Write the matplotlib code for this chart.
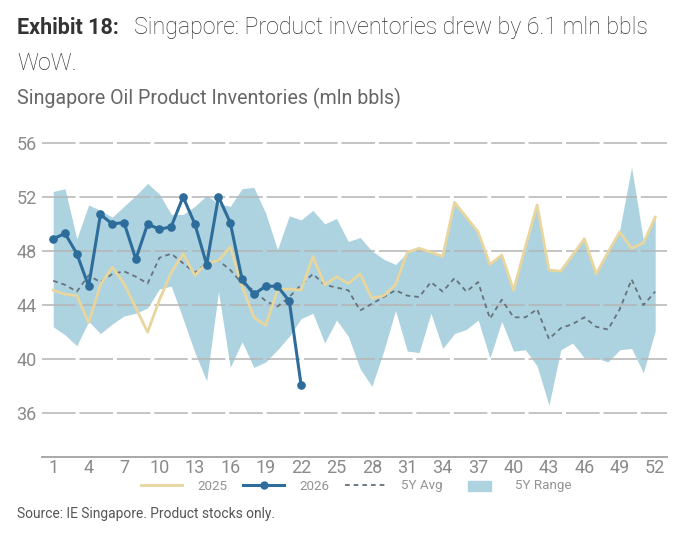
import matplotlib
matplotlib.use("Agg")
import matplotlib.pyplot as plt
from matplotlib.lines import Line2D
from matplotlib.patches import Patch, Rectangle
from matplotlib.legend_handler import HandlerPatch
import numpy as np

plt.rcParams['font.family'] = ['Roboto', 'DejaVu Sans']

weeks = list(range(1, 53))
xticks = list(range(1, 53, 3))
yticks = [36, 40, 44, 48, 52, 56]

y2026 = [48.9, 49.3, 47.8, 45.4, 50.7, 50.0, 50.1, 47.4, 50.0, 49.6,
         49.8, 52.0, 50.0, 47.0, 52.0, 50.1, 45.9, 44.8, 45.4, 45.4,
         44.3, 38.1]

y2025 = [45.1, 44.8, 44.7, 42.7, 45.5, 46.8, 45.6, 43.8, 42.0, 44.4,
         46.4, 47.8, 46.2, 47.1, 47.3, 48.3, 45.4, 43.1, 42.5, 45.1,
         45.2, 45.1, 47.6, 45.5, 46.1, 45.6, 46.3, 44.5, 44.7, 45.5,
         47.9, 48.2, 47.9, 47.6, 51.6, 50.5, 49.4, 47.0, 47.7, 45.1,
         48.3, 51.4, 46.6, 46.5, 47.7, 48.9, 46.3, 47.9, 49.4, 48.2,
         48.6, 50.5]

avg5y = [45.8, 45.5, 45.0, 46.2, 45.7, 46.3, 46.5, 46.1, 45.6, 47.5,
         47.8, 47.1, 46.4, 47.1, 47.3, 46.6, 45.6, 45.1, 44.3, 43.9,
         44.6, 45.5, 46.3, 45.5, 45.3, 45.1, 43.6, 44.1, 44.6, 45.1,
         44.7, 44.6, 45.7, 45.0, 46.0, 45.0, 45.7, 43.0, 44.4, 43.1,
         43.1, 43.7, 41.5, 42.3, 42.6, 43.1, 42.4, 42.2, 43.7, 45.9,
         44.0, 45.0]

range_hi = [52.4, 52.6, 48.9, 51.4, 51.0, 50.5, 51.3, 52.1, 53.0, 52.2,
            50.7, 50.7, 51.3, 52.1, 51.5, 51.3, 52.6, 52.7, 50.8, 48.1,
            50.6, 50.3, 51.0, 50.0, 50.4, 48.7, 49.0, 48.0, 47.4, 47.0,
            47.9, 48.2, 47.9, 47.6, 51.6, 50.5, 49.4, 47.0, 47.7, 45.1,
            48.3, 51.4, 46.6, 46.5, 47.7, 48.9, 46.3, 47.9, 49.6, 54.2,
            48.8, 50.5]

range_lo = [42.4, 41.8, 41.0, 42.8, 41.9, 42.6, 43.2, 43.4, 43.8, 45.2,
            45.4, 43.0, 40.5, 38.4, 45.0, 39.4, 41.3, 39.4, 39.8, 40.7,
            41.7, 43.0, 43.4, 41.2, 42.9, 41.7, 39.3, 38.0, 40.6, 43.6,
            40.6, 40.5, 43.4, 40.8, 41.9, 42.2, 42.9, 40.1, 42.8, 40.6,
            40.7, 39.5, 36.6, 40.7, 41.2, 40.1, 40.1, 39.8, 40.7, 40.8,
            39.0, 42.1]

C_RANGE = '#acd3df'
C_2025 = '#e8d69e'
C_2026 = '#2e6c9b'
C_AVG = '#66737d'
C_GRID = '#b4b4b4'
C_TICK = '#8a8a8a'

fig = plt.figure(figsize=(6.79, 5.37), dpi=100)
ax = fig.add_axes([42/679, 1-456.7/537, 625/679, (456.7-129.2)/537])

ax.fill_between(weeks, range_lo, range_hi, color=C_RANGE, lw=0, zorder=1)
for yv in yticks:
    ax.axhline(yv, color=C_GRID, lw=1.1, ls=(0, (22, 2.5)), zorder=1.5)
ax.plot(weeks, avg5y, color=C_AVG, lw=1.3, ls=(0, (2.6, 2.2)), zorder=3)
ax.plot(weeks, y2025, color=C_2025, lw=2.0, zorder=4)
ax.plot(weeks[:len(y2026)], y2026, color=C_2026, lw=2.2, marker='o',
        markersize=5.2, zorder=5)

ax.set_xlim(0.05, 53.0)
ax.set_ylim(32.8, 57.0)
ax.set_xticks(xticks)
ax.set_yticks(yticks)
ax.tick_params(axis='both', length=0, colors=C_TICK, labelsize=13)
ax.tick_params(axis='x', pad=2)
ax.tick_params(axis='y', pad=4)
for s in ['top', 'right', 'left']:
    ax.spines[s].set_visible(False)
ax.spines['bottom'].set_color('#a8a8a8')
ax.spines['bottom'].set_linewidth(1.4)

def small_patch(legend, orig_handle, xdescent, ydescent, width, height, fontsize):
    w = width * 0.55
    return Rectangle((-xdescent + (width - w) / 2, -ydescent - height * 0.15), w, height * 1.1)

handles = [
    Line2D([], [], color=C_2025, lw=2.0),
    Line2D([], [], color=C_2026, lw=2.2, marker='o', markersize=5),
    Line2D([], [], color=C_AVG, lw=1.3, ls=(0, (2.6, 2.2))),
    Patch(color=C_RANGE),
]
labels = ['2025', '2026', '5Y Avg', '5Y Range']
leg = fig.legend(handles, labels, loc='center', ncol=4,
                 bbox_to_anchor=(356/679, 1-486/537), frameon=False,
                 fontsize=9.6, handlelength=3.1, handletextpad=1.1,
                 columnspacing=1.2, labelcolor='#939393',
                 borderpad=0.1,
                 handler_map={Patch: HandlerPatch(patch_func=small_patch)})

fig.text(17/679, 1-28/537, 'Exhibit 18:', fontsize=15.5, fontweight='bold',
         color='#333333', va='center', ha='left')
fig.text(134/679, 1-28/537, 'Singapore: Product inventories drew by 6.1 mln bbls',
         fontsize=16.7, fontweight='light', color='#333333', va='center', ha='left')
fig.text(17/679, 1-63/537, 'WoW.', fontsize=16.7, fontweight='light',
         color='#333333', va='center', ha='left')
fig.text(17/679, 1-98/537, 'Singapore Oil Product Inventories (mln bbls)',
         fontsize=14.1, color='#666666', va='center', ha='left')
fig.text(17/679, 1-514/537, 'Source: IE Singapore. Product stocks only.',
         fontsize=9.9, color='#555555', va='center', ha='left')

fig.savefig('out.png', dpi=100)
